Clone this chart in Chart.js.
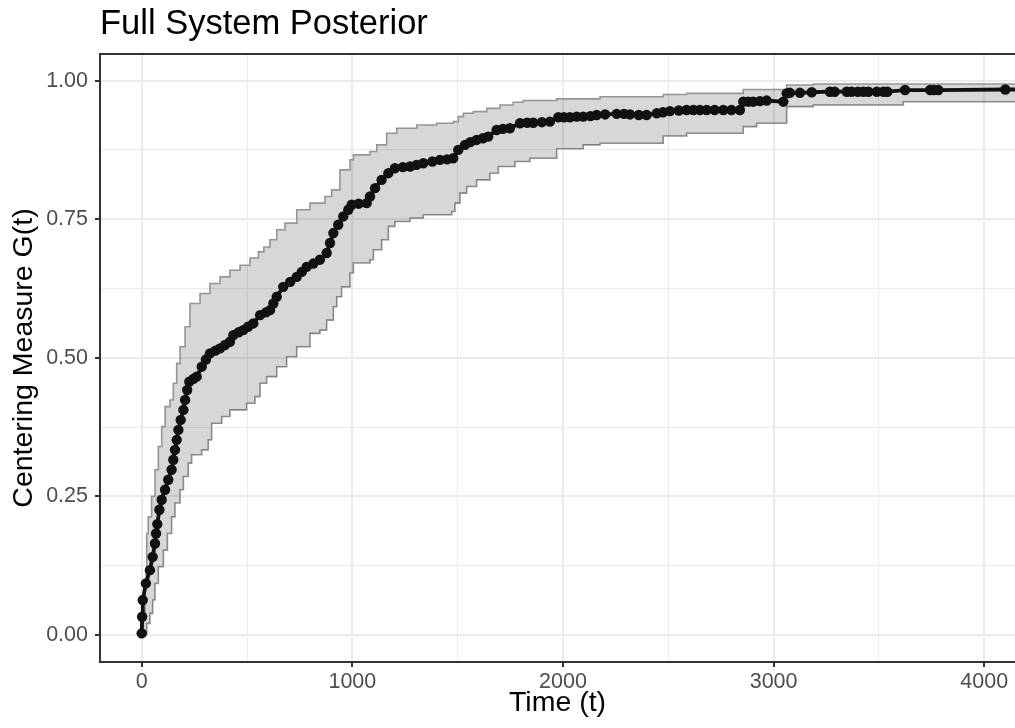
<!DOCTYPE html>
<html>
<head>
<meta charset="utf-8">
<script src="https://cdn.jsdelivr.net/npm/chart.js@4/dist/chart.umd.min.js"></script>
<style>
  html, body { margin: 0; padding: 0; background: #ffffff; overflow: hidden; }
  #wrap { width: 1015px; height: 728px; position: relative; }
  canvas { display: block; }
</style>
</head>
<body>
<div id="wrap"><canvas id="c"></canvas></div>
<script>
// ---------- data ----------
const chartTitle = 'Full System Posterior';
const xTitle = 'Time (t)';
const yTitle = 'Centering Measure G(t)';

const xTicks = [0, 1000, 2000, 3000, 4000];
const xTickLabels = ['0', '1000', '2000', '3000', '4000'];
const xMinorTicks = [500, 1500, 2500, 3500];
const yTicks = [0, 0.25, 0.5, 0.75, 1];
const yTickLabels = ['0.00', '0.25', '0.50', '0.75', '1.00'];
const yMinorTicks = [0.125, 0.375, 0.625, 0.875];

// posterior mean of G(t)
const meanTime = [0, 2, 5, 20, 39, 52, 63, 68, 74, 84, 95, 111, 126, 142, 150, 158, 166, 174, 185, 198,
  206, 216, 226, 245, 261, 285, 305, 324, 350, 372, 395, 419, 435, 460, 482, 505, 530, 562, 590, 609,
  625, 641, 672, 705, 736, 760, 783, 815, 846, 878, 894, 910, 933, 957, 981, 997, 1030, 1068, 1084, 1108,
  1139, 1171, 1202, 1240, 1274, 1305, 1337, 1380, 1416, 1450, 1479, 1503, 1535, 1560, 1590, 1620, 1645, 1685, 1715, 1748,
  1796, 1830, 1859, 1900, 1938, 1978, 2005, 2033, 2065, 2096, 2130, 2160, 2200, 2255, 2290, 2318, 2360, 2397, 2445, 2475,
  2508, 2550, 2587, 2619, 2650, 2682, 2720, 2761, 2800, 2840, 2856, 2880, 2903, 2935, 2967, 3046, 3062, 3077, 3125, 3181,
  3267, 3290, 3347, 3370, 3400, 3426, 3450, 3490, 3521, 3540, 3624, 3743, 3760, 3782, 4100, 4300];
const meanG = [0.003, 0.033, 0.063, 0.093, 0.117, 0.141, 0.165, 0.183, 0.2, 0.226, 0.244, 0.262, 0.28, 0.298, 0.316, 0.334, 0.352, 0.37, 0.388, 0.406,
  0.424, 0.442, 0.457, 0.462, 0.466, 0.484, 0.497, 0.508, 0.513, 0.517, 0.523, 0.529, 0.541, 0.546, 0.55, 0.556, 0.562, 0.577, 0.582, 0.586,
  0.598, 0.61, 0.628, 0.637, 0.646, 0.655, 0.664, 0.67, 0.677, 0.689, 0.707, 0.725, 0.74, 0.755, 0.767, 0.776, 0.778, 0.779, 0.791, 0.806,
  0.821, 0.833, 0.842, 0.844, 0.845, 0.848, 0.851, 0.854, 0.857, 0.858, 0.86, 0.875, 0.884, 0.889, 0.893, 0.896, 0.899, 0.911, 0.913, 0.914,
  0.923, 0.924, 0.924, 0.925, 0.926, 0.934, 0.934, 0.934, 0.935, 0.935, 0.936, 0.938, 0.939, 0.94, 0.94, 0.939, 0.938, 0.938, 0.941, 0.943,
  0.945, 0.946, 0.947, 0.947, 0.947, 0.947, 0.947, 0.947, 0.947, 0.947, 0.962, 0.962, 0.962, 0.963, 0.964, 0.962, 0.977, 0.978, 0.978, 0.979,
  0.98, 0.98, 0.98, 0.98, 0.98, 0.98, 0.98, 0.98, 0.98, 0.98, 0.983, 0.983, 0.983, 0.983, 0.984, 0.984];

// upper credible bound (step function)
const upperTime = [0, 8, 16, 20, 24, 31, 47, 63, 79, 95, 111, 134, 150, 166, 182, 206, 229, 277, 324, 372,
  419, 467, 514, 554, 580, 609, 641, 680, 736, 799, 870, 902, 941, 989, 1005, 1084, 1116, 1163, 1211, 1306,
  1400, 1479, 1503, 1527, 1574, 1638, 1701, 1764, 1812, 1970, 2176, 2476, 2587, 2856, 3062, 3188, 4300];
const upperG = [0.01, 0.033, 0.093, 0.117, 0.183, 0.213, 0.25, 0.298, 0.34, 0.376, 0.412, 0.424, 0.454, 0.49, 0.52, 0.556, 0.598, 0.616, 0.634, 0.646,
  0.658, 0.667, 0.68, 0.691, 0.70, 0.713, 0.731, 0.743, 0.767, 0.779, 0.791, 0.803, 0.839, 0.857, 0.866, 0.872, 0.884, 0.905, 0.914, 0.92,
  0.923, 0.926, 0.935, 0.941, 0.944, 0.95, 0.956, 0.961, 0.964, 0.967, 0.971, 0.975, 0.977, 0.984, 0.992, 0.994, 0.995];

// lower credible bound (step function)
const lowerTime = [0, 24, 39, 52, 63, 79, 103, 122, 142, 158, 182, 198, 221, 237, 285, 316, 332, 380, 419, 498,
  538, 562, 593, 641, 688, 736, 799, 846, 878, 910, 926, 949, 989, 1005, 1084, 1100, 1139, 1171, 1202, 1274,
  1337, 1472, 1487, 1511, 1543, 1590, 1653, 1693, 1772, 1843, 1970, 2096, 2176, 2476, 2587, 2856, 2919, 3062, 3188, 3616, 4300];
const lowerG = [0, 0.021, 0.039, 0.063, 0.093, 0.123, 0.153, 0.183, 0.213, 0.238, 0.262, 0.286, 0.31, 0.325, 0.334, 0.352, 0.382, 0.394, 0.406, 0.418,
  0.43, 0.454, 0.466, 0.484, 0.502, 0.52, 0.544, 0.55, 0.568, 0.592, 0.61, 0.628, 0.653, 0.671, 0.677, 0.695, 0.713, 0.737, 0.746, 0.752,
  0.758, 0.764, 0.779, 0.797, 0.809, 0.821, 0.833, 0.845, 0.854, 0.86, 0.877, 0.884, 0.887, 0.9, 0.905, 0.917, 0.923, 0.953, 0.956, 0.962, 0.962];

// ---------- chart ----------
const FONT = '"Liberation Sans", Arial, Helvetica, sans-serif';
const toXY = (xs, ys) => xs.map((x, i) => ({ x: x, y: ys[i] }));
const isIn = (arr, v) => arr.some(a => Math.abs(a - v) < 1e-9);

const panelBorder = {
  id: 'panelBorder',
  afterDraw(chart) {
    const { ctx, chartArea } = chart;
    ctx.save();
    ctx.strokeStyle = '#333333';
    ctx.lineWidth = 2;
    ctx.beginPath();
    ctx.moveTo(chartArea.left, chartArea.bottom);
    ctx.lineTo(chartArea.left, chartArea.top);
    ctx.lineTo(chartArea.right + 2, chartArea.top);
    ctx.moveTo(chartArea.left, chartArea.bottom);
    ctx.lineTo(chartArea.right + 2, chartArea.bottom);
    ctx.stroke();
    ctx.restore();
  }
};

new Chart(document.getElementById('c'), {
  type: 'line',
  data: {
    datasets: [
      { label: 'mean', data: toXY(meanTime, meanG), borderColor: '#111111', borderWidth: 3.8, pointRadius: 5.2,
        pointBackgroundColor: '#111111', pointBorderWidth: 0, tension: 0, fill: false },
      { label: 'upper', data: toXY(upperTime, upperG), borderColor: '#959595', borderWidth: 1.6, pointRadius: 0,
        stepped: true, fill: '+1', backgroundColor: 'rgba(0,0,0,0.155)' },
      { label: 'lower', data: toXY(lowerTime, lowerG), borderColor: '#959595', borderWidth: 1.6, pointRadius: 0,
        stepped: true, fill: false }
    ]
  },
  options: {
    responsive: true,
    maintainAspectRatio: false,
    animation: false,
    layout: { autoPadding: false, padding: { left: 0, right: 0, top: 0, bottom: 0 } },
    plugins: {
      legend: { display: false },
      tooltip: { enabled: false },
      title: {
        display: true, text: chartTitle, align: 'start', fullSize: false, color: '#000000',
        font: { family: FONT, size: 34.5, weight: 'normal', lineHeight: 1.2 },
        padding: { top: 4, bottom: 8.6 }
      }
    },
    scales: {
      x: {
        type: 'linear', min: -198, max: 4146,
        afterBuildTicks(scale) {
          scale.ticks = xTicks.concat(xMinorTicks).sort((a, b) => a - b).map(v => ({ value: v }));
        },
        afterFit(scale) { scale.height = 66; scale.paddingRight = 0; scale.paddingLeft = 0; },
        ticks: {
          autoSkip: false, maxRotation: 0, padding: 2, color: '#4d4d4d', font: { family: FONT, size: 21.5 },
          callback: (v) => { const i = xTicks.indexOf(v); return i >= 0 ? xTickLabels[i] : ''; }
        },
        grid: {
          color: '#ebebeb',
          lineWidth: (c) => (c.tick && isIn(xTicks, c.tick.value)) ? 2 : 1,
          tickColor: (c) => (c.tick && isIn(xTicks, c.tick.value)) ? '#333333' : 'rgba(0,0,0,0)',
          tickWidth: 2, tickLength: 5
        },
        border: { display: true, color: '#333333', width: 2 },
        title: { display: true, text: xTitle, color: '#000000', font: { family: FONT, size: 28.5, lineHeight: 1.2 },
          padding: { top: 0, bottom: 8 } }
      },
      y: {
        type: 'linear', min: -0.0487, max: 1.048,
        afterBuildTicks(scale) {
          scale.ticks = yTicks.concat(yMinorTicks).sort((a, b) => a - b).map(v => ({ value: v }));
        },
        afterFit(scale) { scale.width = 100; scale.paddingTop = 0; scale.paddingBottom = 0; },
        ticks: {
          autoSkip: false, padding: 7, color: '#4d4d4d', font: { family: FONT, size: 21.5 },
          callback: (v) => { const i = yTicks.findIndex(t => Math.abs(t - v) < 1e-9); return i >= 0 ? yTickLabels[i] : ''; }
        },
        grid: {
          color: '#ebebeb',
          lineWidth: (c) => (c.tick && isIn(yTicks, c.tick.value)) ? 2 : 1,
          tickColor: (c) => (c.tick && isIn(yTicks, c.tick.value)) ? '#333333' : 'rgba(0,0,0,0)',
          tickWidth: 2, tickLength: 5
        },
        border: { display: true, color: '#333333', width: 2 },
        title: { display: true, text: yTitle, color: '#000000', font: { family: FONT, size: 28.5, lineHeight: 1.2 },
          padding: { top: 7.5, bottom: 0 } }
      }
    }
  },
  plugins: [panelBorder]
});
</script>
</body>
</html>
